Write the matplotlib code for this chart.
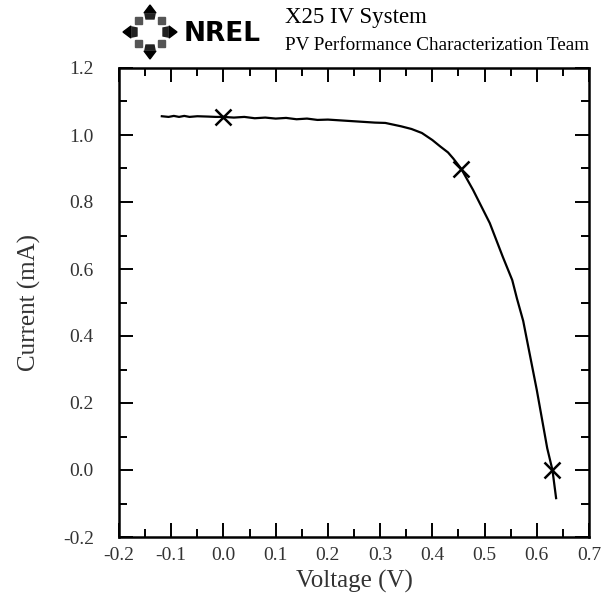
import numpy as np
import matplotlib
matplotlib.use("Agg")
import matplotlib.pyplot as plt
from matplotlib.patches import Polygon
from matplotlib.ticker import MultipleLocator, FormatStrFormatter

# dati
voltage = [-0.118, -0.105, -0.095, -0.085, -0.075, -0.065, -0.05, -0.03, -0.015, 0.0,
           0.02, 0.04, 0.06, 0.08, 0.10, 0.12, 0.14, 0.16, 0.18, 0.20, 0.23,
           0.26, 0.29, 0.31, 0.34, 0.36, 0.38, 0.40, 0.415, 0.43, 0.44, 0.455,
           0.478, 0.51, 0.535, 0.553, 0.562, 0.574, 0.60, 0.62, 0.63, 0.637]
current = [1.056, 1.054, 1.057, 1.054, 1.057, 1.054, 1.056, 1.055, 1.054, 1.054,
           1.052, 1.054, 1.050, 1.052, 1.049, 1.051, 1.047, 1.049, 1.045, 1.046, 1.043,
           1.040, 1.037, 1.036, 1.026, 1.018, 1.006, 0.985, 0.966, 0.948, 0.930, 0.900,
           0.836, 0.737, 0.636, 0.567, 0.512, 0.445, 0.239, 0.065, 0.0, -0.084]
mark_v = [0.0, 0.455, 0.630]
mark_i = [1.053, 0.900, 0.0]

plt.rcParams['font.family'] = ['Liberation Serif', 'DejaVu Serif']

fig = plt.figure(figsize=(6.09, 5.99), dpi=100)
ax = fig.add_axes([119/609, 1-537/599, 470/609, 469/599])

ax.plot(voltage, current, color='black', lw=1.6)
ax.plot(mark_v, mark_i, 'x', color='black', markersize=11, mew=1.8)

ax.set_xlim(-0.2, 0.7)
ax.set_ylim(-0.2, 1.2)
ax.xaxis.set_major_locator(MultipleLocator(0.1))
ax.xaxis.set_minor_locator(MultipleLocator(0.05))
ax.yaxis.set_major_locator(MultipleLocator(0.2))
ax.yaxis.set_minor_locator(MultipleLocator(0.1))
ax.xaxis.set_major_formatter(FormatStrFormatter('%.1f'))
ax.yaxis.set_major_formatter(FormatStrFormatter('%.1f'))

ax.tick_params(which='both', direction='in', top=True, right=True, width=1.4, colors='black')
ax.tick_params(which='major', length=10)
ax.tick_params(which='minor', length=6)
ax.tick_params(axis='x', which='major', pad=7, labelsize=14)
ax.tick_params(axis='y', which='major', pad=18, labelsize=14)
for lab in ax.get_xticklabels() + ax.get_yticklabels():
    lab.set_color('#333333')
for s in ax.spines.values():
    s.set_linewidth(1.8)

ax.set_xlabel('Voltage (V)', fontsize=18, color='#333333')
ax.set_ylabel('Current (mA)', fontsize=18, color='#333333')
ax.xaxis.set_label_coords(0.5, -0.07)
ax.yaxis.set_label_coords(-0.165, 0.5)

# titolo
fig.text(285/609, 1-18/599, 'X25 IV System', fontsize=16.5, va='center', ha='left')
fig.text(285/609, 1-45/599, 'PV Performance Characterization Team', fontsize=13.8,
         va='center', ha='left')

# logo NREL
lax = fig.add_axes([120/609, 1-62/599, 60/609, 60/599])
lax.set_xlim(-30, 30)
lax.set_ylim(-30, 30)
lax.axis('off')
for ang in [0, 90, 180, 270]:
    a = np.deg2rad(ang)
    d = np.array([np.cos(a), np.sin(a)])
    p = np.array([-d[1], d[0]])
    tri = [d*27, d*19 + p*6, d*19 - p*6]
    lax.add_patch(Polygon(tri, closed=True, color='black'))
    sq = [d*18 + p*5, d*18 - p*5, d*13 - p*4, d*13 + p*4]
    lax.add_patch(Polygon(sq, closed=True, color='#222222'))
for ang in [45, 135, 225, 315]:
    a = np.deg2rad(ang)
    d = np.array([np.cos(a), np.sin(a)])
    p = np.array([-d[1], d[0]])
    dia = [d*21, d*16 + p*5, d*11, d*16 - p*5]
    lax.add_patch(Polygon(dia, closed=True, color='#555555'))
fig.text(184/609, 1-34/599, 'NREL', fontsize=19, fontweight='bold', family='DejaVu Sans',
         va='center', ha='left')

fig.savefig('out.png', dpi=100)
